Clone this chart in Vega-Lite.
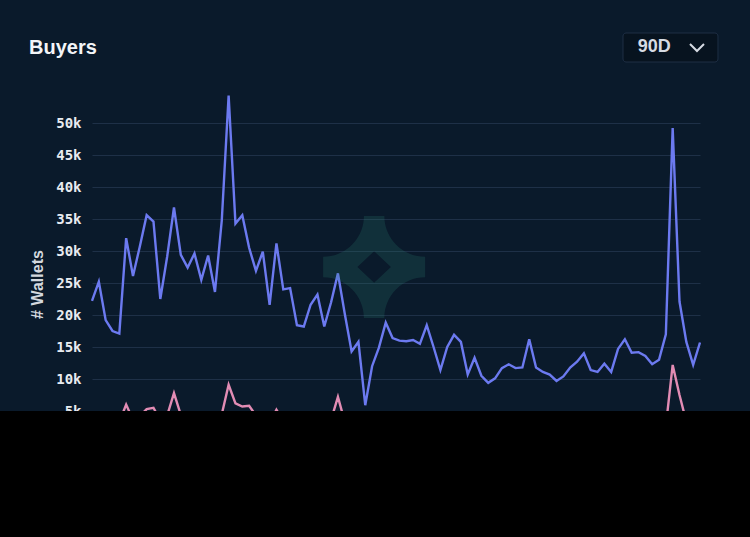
{
  "$schema": "https://vega.github.io/schema/vega-lite/v6.json",
  "width": 608,
  "height": 451,
  "autosize": {"type": "none"},
  "padding": {"left": 92, "top": 86, "right": 50, "bottom": 0},
  "background": "#0a1a2b",
  "title": {"text": "Buyers", "anchor": "start", "frame": "group", "dx": -63, "offset": -25, "font": "Liberation Sans", "fontSize": 20, "fontWeight": "bold", "color": "#f3f5f8"},
  "config": {"view": {"stroke": null}},
  "datasets": {
    "buyers": [
      {"day":0,"series":"Buyers","wallets":22200},{"day":1,"series":"Buyers","wallets":25200},{"day":2,"series":"Buyers","wallets":19200},{"day":3,"series":"Buyers","wallets":17500},{"day":4,"series":"Buyers","wallets":17100},
      {"day":5,"series":"Buyers","wallets":32000},{"day":6,"series":"Buyers","wallets":26100},{"day":7,"series":"Buyers","wallets":30700},{"day":8,"series":"Buyers","wallets":35600},{"day":9,"series":"Buyers","wallets":34600},
      {"day":10,"series":"Buyers","wallets":22500},{"day":11,"series":"Buyers","wallets":29100},{"day":12,"series":"Buyers","wallets":36800},{"day":13,"series":"Buyers","wallets":29400},{"day":14,"series":"Buyers","wallets":27400},
      {"day":15,"series":"Buyers","wallets":29600},{"day":16,"series":"Buyers","wallets":25500},{"day":17,"series":"Buyers","wallets":29300},{"day":18,"series":"Buyers","wallets":23600},{"day":19,"series":"Buyers","wallets":34800},
      {"day":20,"series":"Buyers","wallets":54300},{"day":21,"series":"Buyers","wallets":34300},{"day":22,"series":"Buyers","wallets":35600},{"day":23,"series":"Buyers","wallets":30500},{"day":24,"series":"Buyers","wallets":26900},
      {"day":25,"series":"Buyers","wallets":29900},{"day":26,"series":"Buyers","wallets":21600},{"day":27,"series":"Buyers","wallets":31200},{"day":28,"series":"Buyers","wallets":24000},{"day":29,"series":"Buyers","wallets":24200},
      {"day":30,"series":"Buyers","wallets":18400},{"day":31,"series":"Buyers","wallets":18200},{"day":32,"series":"Buyers","wallets":21600},{"day":33,"series":"Buyers","wallets":23200},{"day":34,"series":"Buyers","wallets":18200},
      {"day":35,"series":"Buyers","wallets":22000},{"day":36,"series":"Buyers","wallets":26500},{"day":37,"series":"Buyers","wallets":20200},{"day":38,"series":"Buyers","wallets":14300},{"day":39,"series":"Buyers","wallets":15800},
      {"day":40,"series":"Buyers","wallets":5900},{"day":41,"series":"Buyers","wallets":12000},{"day":42,"series":"Buyers","wallets":14900},{"day":43,"series":"Buyers","wallets":18800},{"day":44,"series":"Buyers","wallets":16400},
      {"day":45,"series":"Buyers","wallets":16000},{"day":46,"series":"Buyers","wallets":15900},{"day":47,"series":"Buyers","wallets":16100},{"day":48,"series":"Buyers","wallets":15500},{"day":49,"series":"Buyers","wallets":18400},
      {"day":50,"series":"Buyers","wallets":15000},{"day":51,"series":"Buyers","wallets":11400},{"day":52,"series":"Buyers","wallets":15000},{"day":53,"series":"Buyers","wallets":16900},{"day":54,"series":"Buyers","wallets":15800},
      {"day":55,"series":"Buyers","wallets":10700},{"day":56,"series":"Buyers","wallets":13300},{"day":57,"series":"Buyers","wallets":10500},{"day":58,"series":"Buyers","wallets":9400},{"day":59,"series":"Buyers","wallets":10100},
      {"day":60,"series":"Buyers","wallets":11700},{"day":61,"series":"Buyers","wallets":12300},{"day":62,"series":"Buyers","wallets":11700},{"day":63,"series":"Buyers","wallets":11800},{"day":64,"series":"Buyers","wallets":16200},
      {"day":65,"series":"Buyers","wallets":11800},{"day":66,"series":"Buyers","wallets":11100},{"day":67,"series":"Buyers","wallets":10700},{"day":68,"series":"Buyers","wallets":9700},{"day":69,"series":"Buyers","wallets":10400},
      {"day":70,"series":"Buyers","wallets":11800},{"day":71,"series":"Buyers","wallets":12700},{"day":72,"series":"Buyers","wallets":14000},{"day":73,"series":"Buyers","wallets":11400},{"day":74,"series":"Buyers","wallets":11100},
      {"day":75,"series":"Buyers","wallets":12400},{"day":76,"series":"Buyers","wallets":11100},{"day":77,"series":"Buyers","wallets":14700},{"day":78,"series":"Buyers","wallets":16200},{"day":79,"series":"Buyers","wallets":14100},
      {"day":80,"series":"Buyers","wallets":14200},{"day":81,"series":"Buyers","wallets":13600},{"day":82,"series":"Buyers","wallets":12300},{"day":83,"series":"Buyers","wallets":13000},{"day":84,"series":"Buyers","wallets":17000},
      {"day":85,"series":"Buyers","wallets":49200},{"day":86,"series":"Buyers","wallets":22100},{"day":87,"series":"Buyers","wallets":15800},{"day":88,"series":"Buyers","wallets":12200},{"day":89,"series":"Buyers","wallets":15700},
      {"day":0,"series":"New buyers","wallets":3200},{"day":1,"series":"New buyers","wallets":3800},{"day":2,"series":"New buyers","wallets":2900},{"day":3,"series":"New buyers","wallets":2600},{"day":4,"series":"New buyers","wallets":3300},
      {"day":5,"series":"New buyers","wallets":6000},{"day":6,"series":"New buyers","wallets":3600},{"day":7,"series":"New buyers","wallets":4200},{"day":8,"series":"New buyers","wallets":5300},{"day":9,"series":"New buyers","wallets":5500},
      {"day":10,"series":"New buyers","wallets":3500},{"day":11,"series":"New buyers","wallets":4300},{"day":12,"series":"New buyers","wallets":7800},{"day":13,"series":"New buyers","wallets":4400},{"day":14,"series":"New buyers","wallets":3900},
      {"day":15,"series":"New buyers","wallets":4100},{"day":16,"series":"New buyers","wallets":3500},{"day":17,"series":"New buyers","wallets":4200},{"day":18,"series":"New buyers","wallets":3300},{"day":19,"series":"New buyers","wallets":4500},
      {"day":20,"series":"New buyers","wallets":9100},{"day":21,"series":"New buyers","wallets":6200},{"day":22,"series":"New buyers","wallets":5700},{"day":23,"series":"New buyers","wallets":5800},{"day":24,"series":"New buyers","wallets":4300},
      {"day":25,"series":"New buyers","wallets":4000},{"day":26,"series":"New buyers","wallets":3100},{"day":27,"series":"New buyers","wallets":5200},{"day":28,"series":"New buyers","wallets":3400},{"day":29,"series":"New buyers","wallets":3500},
      {"day":30,"series":"New buyers","wallets":2800},{"day":31,"series":"New buyers","wallets":2700},{"day":32,"series":"New buyers","wallets":3100},{"day":33,"series":"New buyers","wallets":3300},{"day":34,"series":"New buyers","wallets":2600},
      {"day":35,"series":"New buyers","wallets":3600},{"day":36,"series":"New buyers","wallets":7200},{"day":37,"series":"New buyers","wallets":3300},{"day":38,"series":"New buyers","wallets":2400},{"day":39,"series":"New buyers","wallets":2600},
      {"day":40,"series":"New buyers","wallets":1300},{"day":41,"series":"New buyers","wallets":2100},{"day":42,"series":"New buyers","wallets":2500},{"day":43,"series":"New buyers","wallets":2900},{"day":44,"series":"New buyers","wallets":2500},
      {"day":45,"series":"New buyers","wallets":2400},{"day":46,"series":"New buyers","wallets":2300},{"day":47,"series":"New buyers","wallets":2400},{"day":48,"series":"New buyers","wallets":2300},{"day":49,"series":"New buyers","wallets":2800},
      {"day":50,"series":"New buyers","wallets":2200},{"day":51,"series":"New buyers","wallets":1700},{"day":52,"series":"New buyers","wallets":2200},{"day":53,"series":"New buyers","wallets":2500},{"day":54,"series":"New buyers","wallets":2300},
      {"day":55,"series":"New buyers","wallets":1600},{"day":56,"series":"New buyers","wallets":2000},{"day":57,"series":"New buyers","wallets":1600},{"day":58,"series":"New buyers","wallets":1400},{"day":59,"series":"New buyers","wallets":1500},
      {"day":60,"series":"New buyers","wallets":1800},{"day":61,"series":"New buyers","wallets":1900},{"day":62,"series":"New buyers","wallets":1800},{"day":63,"series":"New buyers","wallets":1800},{"day":64,"series":"New buyers","wallets":2400},
      {"day":65,"series":"New buyers","wallets":1800},{"day":66,"series":"New buyers","wallets":1700},{"day":67,"series":"New buyers","wallets":1600},{"day":68,"series":"New buyers","wallets":1500},{"day":69,"series":"New buyers","wallets":1600},
      {"day":70,"series":"New buyers","wallets":1800},{"day":71,"series":"New buyers","wallets":1900},{"day":72,"series":"New buyers","wallets":2100},{"day":73,"series":"New buyers","wallets":1700},{"day":74,"series":"New buyers","wallets":1700},
      {"day":75,"series":"New buyers","wallets":1900},{"day":76,"series":"New buyers","wallets":1700},{"day":77,"series":"New buyers","wallets":2200},{"day":78,"series":"New buyers","wallets":2400},{"day":79,"series":"New buyers","wallets":2100},
      {"day":80,"series":"New buyers","wallets":2100},{"day":81,"series":"New buyers","wallets":2000},{"day":82,"series":"New buyers","wallets":1900},{"day":83,"series":"New buyers","wallets":2000},{"day":84,"series":"New buyers","wallets":2600},
      {"day":85,"series":"New buyers","wallets":12200},{"day":86,"series":"New buyers","wallets":7500},{"day":87,"series":"New buyers","wallets":3300},{"day":88,"series":"New buyers","wallets":2400},{"day":89,"series":"New buyers","wallets":3000}
    ]
  },
  "layer": [
    {
      "data": {"name": "buyers"},
      "mark": {"type": "line", "strokeWidth": 2.4},
      "encoding": {
        "x": {"field": "day", "type": "quantitative", "scale": {"domain": [0, 89], "nice": false, "zero": false}, "axis": null},
        "y": {
          "field": "wallets", "type": "quantitative", "title": "# Wallets",
          "scale": {"domain": [-14687.5, 55781.25], "nice": false, "zero": false},
          "axis": {
            "values": [5000, 10000, 15000, 20000, 25000, 30000, 35000, 40000, 45000, 50000],
            "format": "~s", "grid": true, "gridColor": "#1e3047", "gridWidth": 1,
            "domain": false, "ticks": false, "labelPadding": 11,
            "labelFont": "DejaVu Sans Mono", "labelFontSize": 14, "labelFontWeight": "bold", "labelColor": "#e8ebf0",
            "title": "# Wallets", "titleFont": "Liberation Sans", "titleFontSize": 16, "titleFontWeight": "bold", "titleColor": "#d3d8df",
            "titleY": 198, "titlePadding": 10
          }
        },
        "color": {"field": "series", "type": "nominal", "scale": {"domain": ["Buyers", "New buyers"], "range": ["#6c7af0", "#e28cb4"]}, "legend": null}
      }
    },
    {
      "data": {"values": [{}]},
      "mark": {"type": "point", "shape": "M-0.2,-1L0.2,-1A0.8,0.8,0,0,0,1,-0.2L1,0.2A0.8,0.8,0,0,0,0.2,1L-0.2,1A0.8,0.8,0,0,0,-1,0.2L-1,-0.2A0.8,0.8,0,0,0,-0.2,-1ZM0,-0.31L-0.33,0L0,0.31L0.33,0Z", "filled": true, "fill": "#2f8a7a", "fillOpacity": 0.2, "strokeWidth": 0, "size": 10404},
      "encoding": {
        "x": {"datum": 41.3, "type": "quantitative"},
        "y": {"datum": 27500, "type": "quantitative"}
      }
    },
    {
      "data": {"values": [{}]},
      "mark": {"type": "rect", "fill": "#000000"},
      "encoding": {
        "x": {"datum": -20, "type": "quantitative"},
        "x2": {"datum": 100},
        "y": {"datum": 5000, "type": "quantitative"},
        "y2": {"datum": -20000}
      }
    },
    {
      "data": {"values": [{}]},
      "mark": {"type": "rect", "fill": "#07131f", "stroke": "#1e2e44", "strokeWidth": 1, "cornerRadius": 3},
      "encoding": {
        "x": {"datum": 77.73, "type": "quantitative"},
        "x2": {"datum": 91.63},
        "y": {"datum": 64062.5, "type": "quantitative"},
        "y2": {"datum": 59531.25}
      }
    },
    {
      "data": {"values": [{}]},
      "mark": {"type": "text", "text": "90D", "align": "center", "baseline": "middle", "font": "Liberation Sans", "fontSize": 18, "fontWeight": "bold", "fill": "#d6dbe3"},
      "encoding": {
        "x": {"datum": 82.3, "type": "quantitative"},
        "y": {"datum": 61875, "type": "quantitative"}
      }
    },
    {
      "data": {"values": [{}]},
      "mark": {"type": "point", "shape": "M-1,-0.5L0,0.5L1,-0.5", "filled": false, "stroke": "#d6dbe3", "strokeWidth": 2, "size": 196, "opacity": 1},
      "encoding": {
        "x": {"datum": 88.56, "type": "quantitative"},
        "y": {"datum": 61797, "type": "quantitative"}
      }
    }
  ]
}
